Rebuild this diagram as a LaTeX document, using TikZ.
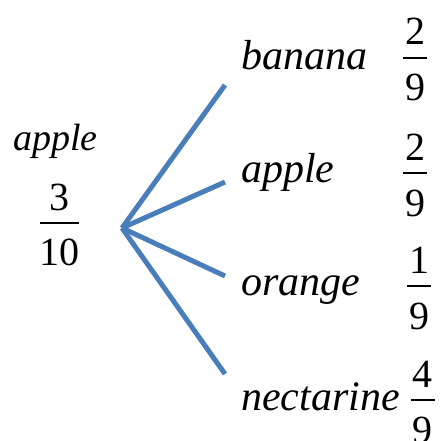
\documentclass[tikz,border=0pt]{standalone}
\usepackage{fontspec}
\setmainfont{Liberation Serif}
\definecolor{branchblue}{RGB}{74,126,187}

\begin{document}
\begin{tikzpicture}[x=1pt,y=1pt,
  branch/.style={draw=branchblue,line width=5pt},
  fruit/.style={inner sep=0pt,anchor=base west,font=\fontsize{42}{50}\selectfont\itshape},
  digit/.style={inner sep=0pt,anchor=base,font=\fontsize{40}{48}\selectfont},
  fracbar/.style={line width=1.8pt}]
  \useasboundingbox (0,-441) rectangle (440,0);
  % first pick
  \node[fruit,font=\fontsize{38}{46}\selectfont\itshape] (first) at (13,-150) {apple};
  \node[digit] (firstnum) at (59.5,-210) {3};
  \node[digit] (firstden) at (59.5,-265) {10};
  \draw[fracbar] (40,-223) -- (79,-223);
  \coordinate (root) at (122,-228);
  % second pick, one branch each
  \foreach \name/\ty/\ey/\nm/\dn/\fx/\by in
    {banana/70/85/2/9/415/58,
     apple/182/182/2/9/415/173,
     orange/295/276/1/9/419/286,
     nectarine/410/374/4/9/422.5/400}{
    \coordinate (\name end) at (225,-\ey);
    \draw[branch] (root) -- (\name end);
    \node[fruit] (\name) at (241,-\ty) {\name};
    \node[digit] (\name num) at (\fx,-\by+13) {\nm};
    \node[digit] (\name den) at (\fx,-\by-43) {\dn};
    \draw[fracbar] (\fx-12,-\by) -- (\fx+12,-\by);
  }
\end{tikzpicture}
\end{document}
